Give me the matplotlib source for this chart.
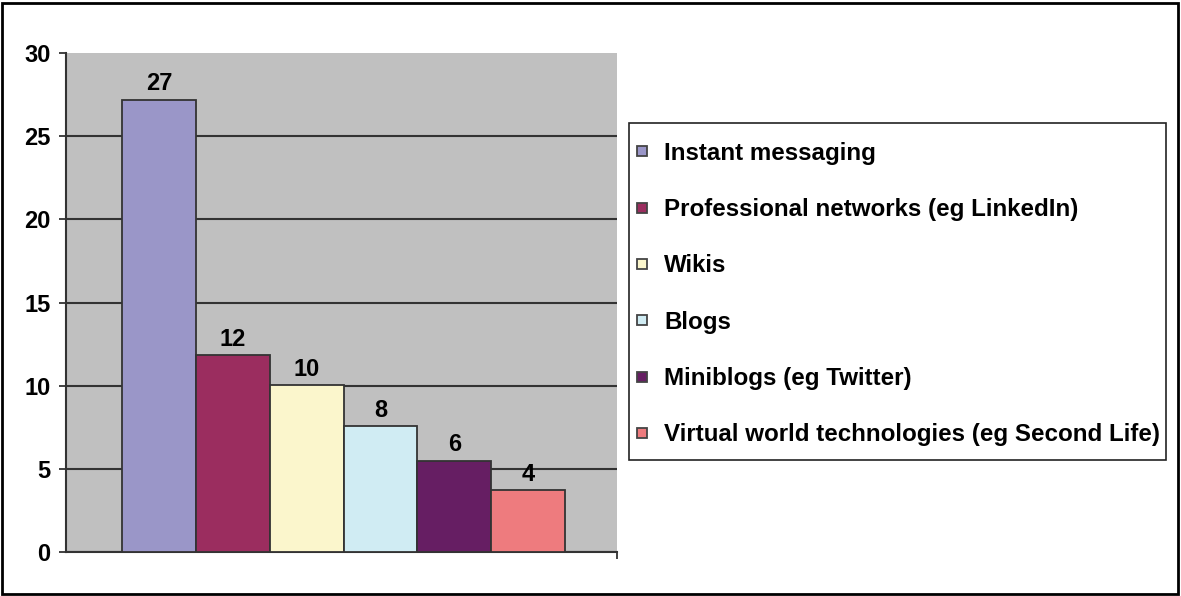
import matplotlib
matplotlib.use('Agg')
import matplotlib.pyplot as plt
from matplotlib.lines import Line2D
from matplotlib.patches import Rectangle

# data
categories = ['Instant messaging', 'Professional networks (eg LinkedIn)', 'Wikis',
              'Blogs', 'Miniblogs (eg Twitter)', 'Virtual world technologies (eg Second Life)']
values = [27.2, 11.85, 10.05, 7.55, 5.5, 3.7]
value_labels = ['27', '12', '10', '8', '6', '4']
colors = ['#9a96c8', '#9b2d5f', '#fbf6cc', '#d0ecf3', '#661e63', '#ee7b7e']
y_ticks = [0, 5, 10, 15, 20, 25, 30]

plt.rcParams['font.family'] = ['Liberation Sans', 'DejaVu Sans']
plt.rcParams['font.weight'] = 'bold'
FS = 17
FS_LEG = 17.4

W, H = 1181, 596
fig = plt.figure(figsize=(W / 100, H / 100), dpi=100, facecolor='white')
ax = fig.add_axes([66 / W, 1 - 552 / H, (617 - 66) / W, (552 - 53) / H])
ax.set_facecolor('#c0c0c0')

x = list(range(len(values)))
ax.bar(x, values, width=1.0, color=colors, edgecolor='#333333', linewidth=1.3, zorder=3)

for xi, v, lab in zip(x, values, value_labels):
    ax.annotate(lab, xy=(xi, v), xytext=(0, 3), textcoords='offset points',
                ha='center', va='bottom', fontsize=FS, fontweight='bold', color='black')

xmin, xmax = -1.257, 6.2
ax.set_xlim(xmin, xmax)
ax.set_ylim(0, 30)
ax.set_yticks(y_ticks)
ax.set_yticklabels([str(t) for t in y_ticks], fontsize=FS, fontweight='bold')
ax.set_xticks([xmax])
ax.set_xticklabels([''])
ax.tick_params(axis='both', direction='out', length=5, width=1.3, color='#333333', pad=6)

ax.grid(axis='y', color='#333333', linewidth=1.5, zorder=1)
ax.set_axisbelow(True)
ax.yaxis.get_gridlines()[-1].set_visible(False)

for s in ['top', 'right']:
    ax.spines[s].set_visible(False)
for s in ['left', 'bottom']:
    ax.spines[s].set_color('#333333')
    ax.spines[s].set_linewidth(1.5)

# legend with its own frame
fig.patches.append(Rectangle((629 / W, 1 - 460 / H), (1166 - 629) / W, (460 - 123) / H,
                             transform=fig.transFigure, facecolor='white',
                             edgecolor='#222222', linewidth=1.2, zorder=0))
handles = [Line2D([0], [0], linestyle='none', marker='s', markersize=7.5,
                  markerfacecolor=c, markeredgecolor='#444444', markeredgewidth=1.3, label=lab)
           for c, lab in zip(colors, categories)]
fig.legend(handles=handles, loc='center left', bbox_to_anchor=(635 / W, 1 - 294 / H),
           frameon=False, prop={'weight': 'bold', 'size': FS_LEG},
           handlelength=0.6, handletextpad=0.6, labelspacing=1.38,
           borderpad=0, borderaxespad=0)

# outer border
fig.patches.append(Rectangle((2 / W, 2 / H), (W - 5) / W, (H - 5) / H,
                             transform=fig.transFigure, facecolor='none',
                             edgecolor='black', linewidth=2))

fig.savefig('out.png', dpi=100, facecolor='white')
